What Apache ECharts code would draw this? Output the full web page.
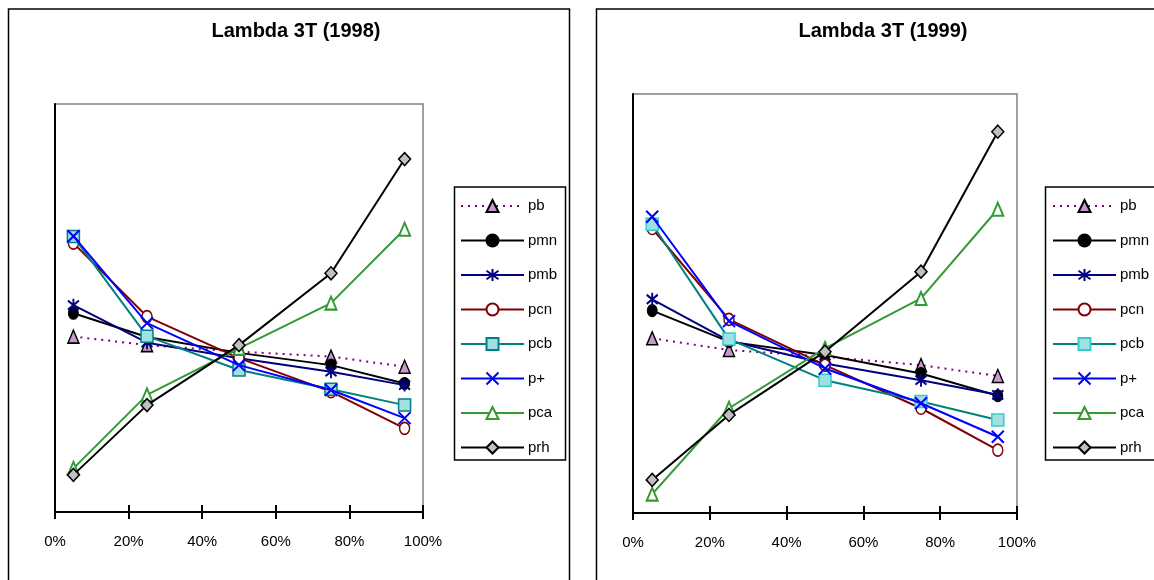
<!DOCTYPE html>
<html>
<head>
<meta charset="utf-8">
<script src="https://cdn.jsdelivr.net/npm/echarts@6/dist/echarts.min.js"></script>
<style>
html,body{margin:0;padding:0;background:#fff;}
#wrap{position:relative;width:1154px;height:580px;overflow:hidden;}
.c{position:absolute;left:0;top:0;width:1154px;height:580px;}
</style>
</head>
<body>
<div id="wrap"><div id="a" class="c"></div><div id="b" class="c"></div></div>
<script>
// x categories (percent positions)
const cats = [5, 25, 50, 75, 95];
const xTicks = [0, 20, 40, 60, 80, 100];
const seriesNames = ['pb', 'pmn', 'pmb', 'pcn', 'pcb', 'p+', 'pca', 'prh'];

// Lambda 3T (1998)
const pb98   = [43.0, 40.9, 39.3, 38.1, 35.6];
const pmn98  = [48.7, 42.9, 39.0, 36.0, 31.5];
const pmb98  = [50.7, 41.5, 37.7, 34.4, 31.1];
const pcn98  = [65.9, 47.9, 37.7, 29.5, 20.5];
const pcb98  = [67.5, 43.1, 34.8, 30.1, 26.2];
const pplus98= [67.6, 46.3, 36.0, 29.9, 23.0];
const pca98  = [10.7, 28.7, 40.1, 51.2, 69.3];
const prh98  = [9.1, 26.2, 40.9, 58.5, 86.5];

// Lambda 3T (1999)
const pb99   = [41.7, 38.9, 37.3, 35.3, 32.7];
const pmn99  = [48.3, 40.9, 37.7, 33.3, 28.0];
const pmb99  = [51.0, 41.1, 35.7, 31.7, 28.2];
const pcn99  = [67.9, 46.2, 35.3, 25.0, 15.0];
const pcb99  = [68.9, 41.5, 31.7, 26.6, 22.2];
const pplus99= [70.7, 45.8, 34.5, 26.2, 18.2];
const pca99  = [4.5, 25.0, 39.3, 51.2, 72.5];
const prh99  = [7.9, 23.4, 38.5, 57.6, 91.0];

const ASTER = 'path://M5,0L5,10M0,1.5L10,8.5M0,8.5L10,1.5';
const XMARK = 'path://M0,0L10,10M0,10L10,0';

function styles(pcbBorder) {
  return {
    'pb':  {line:{color:'#800080', width:2, type:[2,5]}, symbol:'triangle', size:[11,13], item:{color:'#cc99cc', borderColor:'#000', borderWidth:1.5}},
    'pmn': {line:{color:'#000', width:2}, symbol:'circle', size:[10,12], item:{color:'#000', borderColor:'#000', borderWidth:1}},
    'pmb': {line:{color:'#000080', width:2}, symbol:ASTER, size:[11,13], item:{color:'#000080', borderColor:'#000080', borderWidth:2}},
    'pcn': {line:{color:'#800000', width:2}, symbol:'circle', size:[10,12], item:{color:'#fff', borderColor:'#800000', borderWidth:1.5}},
    'pcb': {line:{color:'#008080', width:2}, symbol:'rect', size:[12,12], item:{color:'#a0e0e0', borderColor:pcbBorder, borderWidth:1.5}},
    'p+':  {line:{color:'#0000ff', width:2}, symbol:XMARK, size:[12,12], item:{color:'#0000ff', borderColor:'#0000ff', borderWidth:2}},
    'pca': {line:{color:'#339933', width:2}, symbol:'triangle', size:[11,13], item:{color:'#fff', borderColor:'#339933', borderWidth:2}},
    'prh': {line:{color:'#000', width:2}, symbol:'diamond', size:[12,13], item:{color:'#c0c0c0', borderColor:'#000', borderWidth:1.5}}
  };
}

function build(cfg) {
  const st = styles(cfg.pcbBorder);
  const series = seriesNames.map((n, i) => ({
    name: n, type: 'line',
    data: cats.map((c, j) => [c, cfg.data[i][j]]),
    lineStyle: st[n].line,
    symbol: st[n].symbol, symbolSize: st[n].size, showSymbol: true,
    itemStyle: st[n].item,
    z: 2 + i, silent: true
  }));
  return {
    animation: false,
    title: {
      text: cfg.title, left: cfg.titleX, top: 21, textAlign: 'center', padding: 0,
      textStyle: {fontFamily: 'Liberation Sans, Arial, sans-serif', fontWeight: 'bold', fontSize: 20, color: '#000'}
    },
    grid: {left: cfg.gl, top: cfg.gt, width: cfg.gw, height: cfg.gh, show: true, borderColor: '#808080', borderWidth: 1.5, containLabel: false},
    xAxis: [{
      type: 'value', min: 0, max: 100, interval: 20, position: 'bottom',
      axisLine: {show: true, onZero: false, lineStyle: {color: '#000', width: 2}},
      axisTick: {show: true, inside: false, length: 7, lineStyle: {color: '#000', width: 2}},
      axisLabel: {formatter: '{value}%', margin: 22, color: '#000', fontSize: 15, fontFamily: 'Liberation Sans, Arial, sans-serif'},
      splitLine: {show: false}
    }, {
      type: 'value', min: 0, max: 100, interval: 20, position: 'bottom',
      axisLine: {show: false},
      axisTick: {show: true, inside: true, length: 7, lineStyle: {color: '#000', width: 2}},
      axisLabel: {show: false}, splitLine: {show: false}
    }],
    yAxis: {
      type: 'value', min: 0, max: 100,
      axisLine: {show: true, onZero: false, lineStyle: {color: '#000', width: 2}},
      axisTick: {show: false}, axisLabel: {show: false}, splitLine: {show: false}
    },
    legend: {
      orient: 'vertical', left: cfg.legX, top: 198.5, padding: 0,
      itemWidth: 63, itemHeight: 15, itemGap: 19.5,
      data: seriesNames,
      selectedMode: false,
      textStyle: {fontSize: 15, color: '#000', fontFamily: 'Liberation Sans, Arial, sans-serif', padding: [0,0,0,-1]}
    },
    graphic: [
      {type: 'rect', shape: {x: cfg.frameX, y: 9, width: cfg.frameW, height: 600}, style: {fill: 'none', stroke: '#000', lineWidth: 1.5}, silent: true, z: -1},
      {type: 'rect', shape: {x: cfg.legBoxX, y: 187, width: 111, height: 273}, style: {fill: 'none', stroke: '#000', lineWidth: 1.5}, silent: true, z: -1}
    ],
    series: series
  };
}

const optA = build({
  title: 'Lambda 3T (1998)', titleX: 296,
  gl: 55, gt: 104, gw: 368, gh: 408,
  legX: 460, legBoxX: 454.5, frameX: 8.5, frameW: 561,
  pcbBorder: '#008080',
  data: [pb98, pmn98, pmb98, pcn98, pcb98, pplus98, pca98, prh98]
});
const optB = build({
  title: 'Lambda 3T (1999)', titleX: 883,
  gl: 633, gt: 94, gw: 384, gh: 419,
  legX: 1052, legBoxX: 1045.5, frameX: 596.5, frameW: 600,
  pcbBorder: '#33cccc',
  data: [pb99, pmn99, pmb99, pcn99, pcb99, pplus99, pca99, prh99]
});

echarts.init(document.getElementById('a'), null, {renderer: 'canvas'}).setOption(optA);
echarts.init(document.getElementById('b'), null, {renderer: 'canvas'}).setOption(optB);
</script>
</body>
</html>
